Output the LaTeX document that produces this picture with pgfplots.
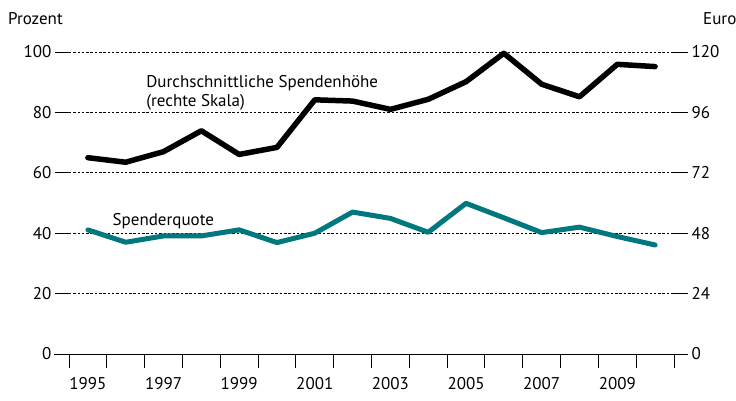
\documentclass[border=0pt]{standalone}
\usepackage{fontspec}
\setmainfont{PT Sans}
\usepackage{pgfplots}
\pgfplotsset{compat=1.18}
\definecolor{myteal}{RGB}{0,120,126}
\begin{document}
\begin{tikzpicture}[font=\fontsize{17bp}{20bp}\selectfont]
\begin{axis}[
  scale only axis, width=605bp, height=302bp,
  xmin=1994.5, xmax=2010.5, ymin=0, ymax=100,
  axis line style={draw=none},
  clip=false,
  /pgf/number format/assume math mode=true,
  ytick={0,20,...,100}, ytick pos=left,
  ymajorgrids, grid style={black, line width=0.7bp, dash pattern=on 2.5bp off 1.8bp},
  tick align=outside, major tick length=14bp,
  tick style={black, line width=0.9bp},
  xtick={1994.5,1995.5,...,2010.5}, xticklabel={\relax}, xtick pos=bottom,
  extra x ticks={1995,1997,...,2009},
  extra x tick labels={1995,1997,1999,2001,2003,2005,2007,2009},
  extra x tick style={major tick length=0pt, tick label style={yshift=-20bp}},
]
\addplot[myteal, line width=5bp, line join=round, line cap=round] coordinates {
(1995,41.1) (1996,37.0) (1997,39.1) (1998,39.1) (1999,41.1) (2000,36.9)
(2001,40.0) (2002,47.0) (2003,44.9) (2004,40.3) (2005,49.9) (2006,45.1)
(2007,40.2) (2008,42.0) (2009,38.9) (2010,36.1)};
\node[anchor=base west, inner sep=0pt] at (axis cs:1996.54,88.4) {Durchschnittliche Spendenhöhe};
\node[anchor=base west, inner sep=0pt] at (axis cs:1996.54,81.8) {(rechte Skala)};
\node[anchor=base west, inner sep=0pt] at (axis cs:1995.65,42.7) {Spenderquote};
\end{axis}
\begin{axis}[
  scale only axis, width=605bp, height=302bp,
  xmin=1994.5, xmax=2010.5, ymin=0, ymax=120,
  axis line style={draw=none},
  hide x axis,
  clip=false,
  /pgf/number format/assume math mode=true,
  ytick={0,24,...,120}, ytick pos=right, yticklabel pos=right,
  tick align=outside, major tick length=14bp,
  tick style={black, line width=0.9bp},
]
\addplot[black, line width=5.5bp, line join=round, line cap=round] coordinates {
(1995,78.0) (1996,76.2) (1997,80.4) (1998,88.7) (1999,79.3) (2000,82.1)
(2001,101.0) (2002,100.5) (2003,97.2) (2004,101.2) (2005,108.2) (2006,119.5)
(2007,107.2) (2008,102.2) (2009,115.1) (2010,114.2)};
\end{axis}
\draw[black, line width=1bp] (-15bp,0) -- (619bp,0);
\node[anchor=base west, inner sep=0pt] at (-61bp,329bp) {Prozent};
\node[anchor=base west, inner sep=0pt] at (634bp,329bp) {Euro};
\pgfresetboundingbox
\path (-69bp,-47bp) rectangle (667bp,354bp);
\end{tikzpicture}
\end{document}
